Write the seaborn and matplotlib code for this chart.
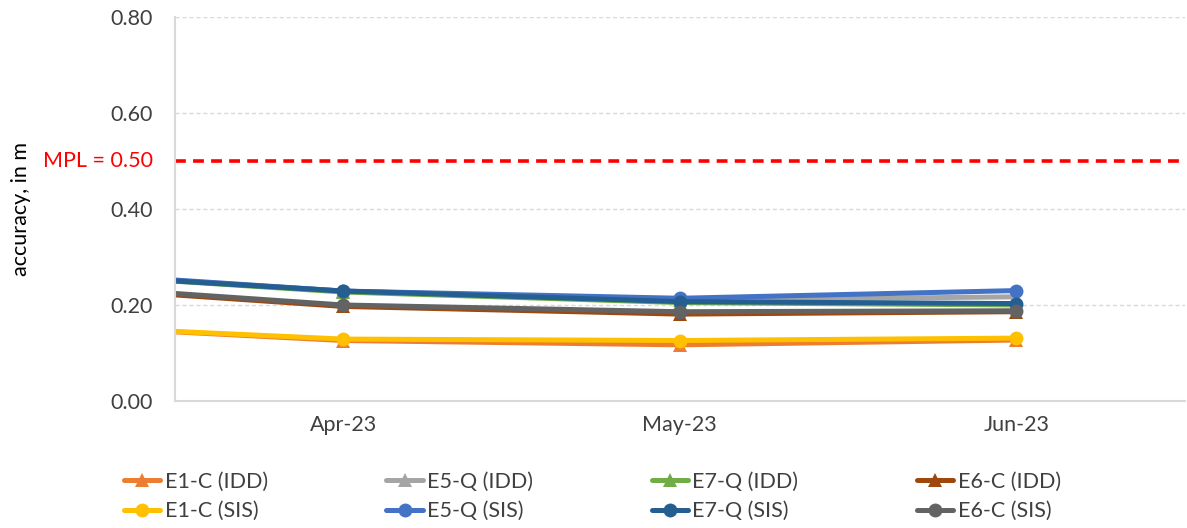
import pandas as pd
import numpy as np
import matplotlib
matplotlib.use('Agg')
import matplotlib.pyplot as plt
import seaborn as sns
from matplotlib.lines import Line2D

# data (first month sits left of the visible range, as in the source chart)
months = ['Mar-23', 'Apr-23', 'May-23', 'Jun-23']
series = ['E1-C (IDD)', 'E5-Q (IDD)', 'E7-Q (IDD)', 'E6-C (IDD)',
          'E1-C (SIS)', 'E5-Q (SIS)', 'E7-Q (SIS)', 'E6-C (SIS)']
e1c_idd = [0.162, 0.126, 0.117, 0.127]
e5q_idd = [0.273, 0.229, 0.210, 0.217]
e7q_idd = [0.272, 0.227, 0.205, 0.200]
e6c_idd = [0.245, 0.197, 0.181, 0.186]
e1c_sis = [0.161, 0.129, 0.126, 0.131]
e5q_sis = [0.275, 0.229, 0.214, 0.230]
e7q_sis = [0.271, 0.229, 0.207, 0.203]
e6c_sis = [0.248, 0.200, 0.186, 0.188]
mpl_value = 0.50

colors = ['#ED7D31', '#A5A5A5', '#70AD47', '#9E480E',
          '#FFC000', '#4472C4', '#255E91', '#636363']

values = [e1c_idd, e5q_idd, e7q_idd, e6c_idd, e1c_sis, e5q_sis, e7q_sis, e6c_sis]
rows = []
for name, vals in zip(series, values):
    for i, (m, v) in enumerate(zip(months, vals)):
        rows.append({'series': name, 'pos': i - 1, 'month': m, 'accuracy': v})
df = pd.DataFrame(rows)

sns.set_style('white')
plt.rcParams['font.family'] = ['Lato', 'DejaVu Sans']
text_size = 15.5

fig = plt.figure(figsize=(11.87, 5.28), dpi=100)
ax = fig.add_axes([0.1474, 0.2405, 0.8506, 0.7275])

handles = []
for name, color in zip(series, colors):
    marker = '^' if 'IDD' in name else 'o'
    sns.lineplot(data=df[df['series'] == name], x='pos', y='accuracy',
                 color=color, linewidth=3.6, marker=marker, markersize=10,
                 markeredgewidth=0, ax=ax, legend=False)
    handles.append(Line2D([0], [0], color=color, lw=3.6, marker=marker,
                          markersize=10, markeredgewidth=0))

# MPL reference line
ax.axhline(mpl_value, color='#FF0000', linestyle=(0, (3, 2)), linewidth=2.6, zorder=1)
ax.annotate('MPL = 0.50', xy=(0, mpl_value), xycoords=('axes fraction', 'data'),
            xytext=(-16, 0), textcoords='offset points', color='#FF0000',
            fontsize=text_size, ha='right', va='center', annotation_clip=False)

ax.set_xlim(-0.5, 2.5)
ax.set_ylim(0, 0.8)
ax.set_xticks([0, 1, 2])
ax.set_xticklabels(months[1:], fontsize=text_size, color='#404040')
ax.set_yticks([0, 0.2, 0.4, 0.6, 0.8])
ax.set_yticklabels(['0.00', '0.20', '0.40', '0.60', '0.80'], fontsize=text_size, color='#404040')
ax.tick_params(axis='y', length=0, pad=16)
ax.tick_params(axis='x', length=0, pad=10)
ax.set_xlabel('')
ax.set_ylabel('accuracy, in m', fontsize=text_size, color='black', labelpad=57)

ax.yaxis.grid(True, color='#D9D9D9', linestyle=(0, (3, 2)), linewidth=1)
ax.set_axisbelow(True)
for side in ['top', 'right']:
    ax.spines[side].set_visible(False)
for side in ['left', 'bottom']:
    ax.spines[side].set_color('#D9D9D9')
    ax.spines[side].set_linewidth(1.5)

# legend: row-major like the original, so interleave for matplotlib's column fill
order = [0, 4, 1, 5, 2, 6, 3, 7]
leg = fig.legend([handles[i] for i in order], [series[i] for i in order],
                 loc='center', bbox_to_anchor=(0.499, 0.06), ncol=4, frameon=False,
                 fontsize=text_size, handlelength=1.7, columnspacing=5.5,
                 handletextpad=0.2, labelspacing=0.45)
for t in leg.get_texts():
    t.set_color('#404040')

plt.savefig('out.png', dpi=100)
